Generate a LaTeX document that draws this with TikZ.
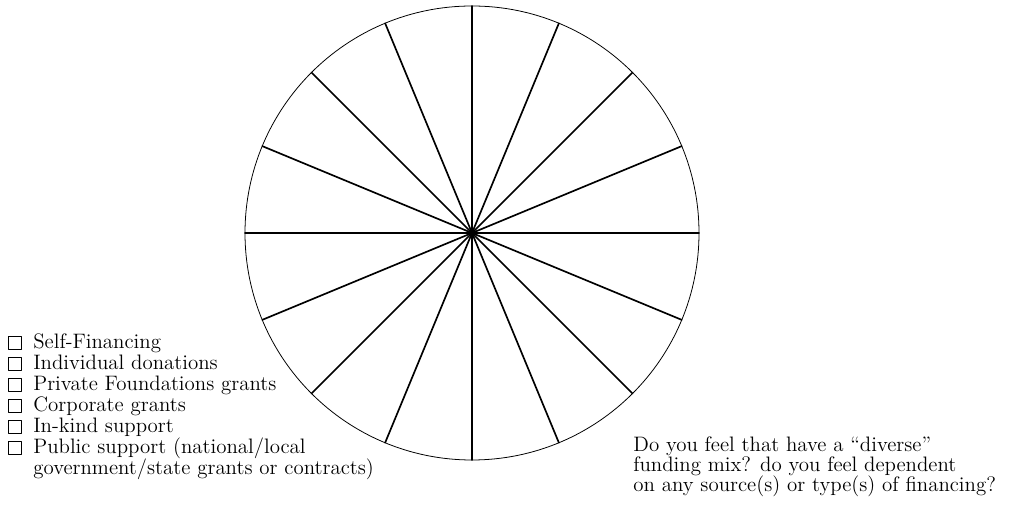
\documentclass[tikz,border=0pt]{standalone}
\begin{document}
\begin{tikzpicture}[x=0.02cm,y=0.02cm,line cap=round,line join=round,
  every node/.style={inner sep=0pt,font=\fontsize{11.9}{12}\selectfont},
  chkbox/.style={draw,line width=0.75pt,minimum size=0.27cm,inner sep=0pt},
  itemtext/.style={anchor=base west}]
  \useasboundingbox (0,0) rectangle (1010,516);
  \def\R{227}
  \coordinate (O) at (472,283);
  % wheel
  \draw[line width=0.45pt] (O) circle (\R);
  \foreach \a in {0,22.5,...,337.5}
    \draw[line width=0.95pt] (O) -- ++(\a:\R);
  % sources
  \node[chkbox] (b1) at (15,173) {};
  \node[itemtext] (t1) at (33,167) {Self-Financing};
  \node[chkbox] (b2) at (15,152) {};
  \node[itemtext] (t2) at (33,146) {Individual donations};
  \node[chkbox] (b3) at (15,131) {};
  \node[itemtext] (t3) at (33,125) {Private Foundations grants};
  \node[chkbox] (b4) at (15,110) {};
  \node[itemtext] (t4) at (33,104) {Corporate grants};
  \node[chkbox] (b5) at (15,89) {};
  \node[itemtext] (t5) at (33,83) {In-kind support};
  \node[chkbox] (b6) at (15,68) {};
  \node[itemtext] (t6) at (33,62) {Public support (national/local};
  \node[itemtext] (t7) at (33,41) {government/state grants or contracts)};
  % question
  \node[itemtext] (q1) at (633,64) {Do you feel that have a ``diverse''};
  \node[itemtext] (q2) at (633,44) {funding mix? do you feel dependent};
  \node[itemtext] (q3) at (633,24) {on any source(s) or type(s) of financing?};
\end{tikzpicture}
\end{document}
